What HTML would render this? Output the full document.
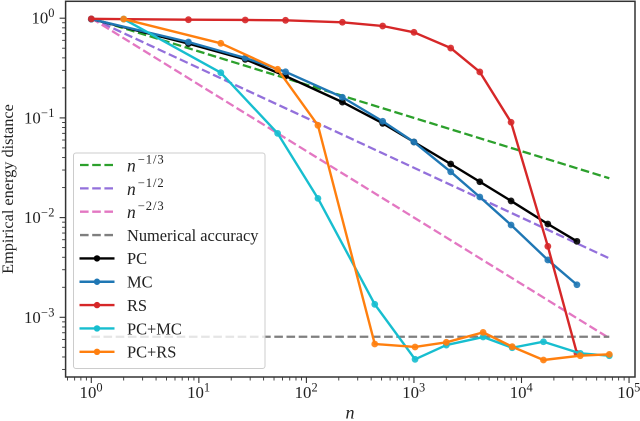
<!DOCTYPE html>
<html lang="en">
<head>
<meta charset="utf-8">
<title>Empirical energy distance</title>
<style>
html,body{margin:0;padding:0;background:#fff;}
svg{display:block;font-family:"Liberation Serif",serif;fill:#222;}
</style>
</head>
<body>
<svg id="chart" xmlns="http://www.w3.org/2000/svg" width="640" height="421" viewBox="0 0 640 421"></svg>
<script>
const cubeN = [1, 8, 27, 64, 216, 512, 1000, 2197, 4096, 8000, 17576, 32768];
const doubleCubeN = [2, 16, 54, 128, 432, 1024, 2000, 4394, 8192, 16000, 35152, 65536];
const refN = [1, 65536];

const refThird = [1, 0.0248];
const refHalf = [1, 0.0039];
const refTwoThird = [1, 0.000617];
const accuracy = [0.000638, 0.000638];

const pcValues = [0.98, 0.557, 0.387, 0.263, 0.144, 0.0883, 0.0573, 0.0345, 0.0229, 0.0147, 0.00863, 0.00578];
const mcValues = [0.98, 0.577, 0.399, 0.29, 0.161, 0.0925, 0.0573, 0.0288, 0.0161, 0.00843, 0.00376, 0.00212];
const rsValues = [0.985, 0.966, 0.96, 0.952, 0.91, 0.835, 0.722, 0.502, 0.289, 0.0904, 0.00515, 0.000435];
const pcMcValues = [0.98, 0.284, 0.07, 0.0156, 0.00135, 0.000379, 0.000527, 0.000634, 0.000495, 0.000569, 0.000435, 0.000412];
const pcRsValues = [0.98, 0.56, 0.307, 0.0843, 0.00054, 0.000504, 0.000561, 0.000706, 0.000507, 0.000373, 0.000412, 0.000425];

const xTickExponents = [0, 1, 2, 3, 4, 5];
const yTickExponents = [0, -1, -2, -3];
const legendLabels = ["-1/3", "-1/2", "-2/3", "Numerical accuracy", "PC", "MC", "RS", "PC+MC", "PC+RS"];

const NS = "http://www.w3.org/2000/svg";
const svg = document.getElementById("chart");
const plot = {left: 65.6, right: 635, top: 1.3, bottom: 377};
const xScale = n => 91.3 + 107.55 * Math.log10(n);
const yScale = v => 18.2 - 99.7 * Math.log10(v);

function make(tag, attrs, parent) {
  const el = document.createElementNS(NS, tag);
  for (const k in attrs) el.setAttribute(k, attrs[k]);
  (parent || svg).appendChild(el);
  return el;
}
function group(name) {
  const g = make("g", {});
  
  
  return g;
}
function toPoints(xs, ys) {
  return xs.map((x, i) => xScale(x).toFixed(2) + "," + yScale(ys[i]).toFixed(2)).join(" ");
}
function drawRef(name, xs, ys, color) {
  const line = make("polyline", {points: toPoints(xs, ys), fill: "none", stroke: color, "stroke-width": 2.3, "stroke-dasharray": "8.6 3.6"});
  
  
}
function drawSeries(name, xs, ys, color) {
  const g = group(name);
  make("polyline", {points: toPoints(xs, ys), fill: "none", stroke: color, "stroke-width": 2.4, "stroke-linejoin": "round"}, g);
  xs.forEach((x, i) => {
    const dot = make("circle", {cx: xScale(x).toFixed(2), cy: yScale(ys[i]).toFixed(2), r: 3.4, fill: color, "fill-opacity": 0.9}, g);
    
    
  });
}
function powerLabel(parent, x, y, exp, anchor) {
  const t = make("text", {x: x, y: y, "font-size": 16.8, "text-anchor": anchor}, parent);
  
  
  t.appendChild(document.createTextNode("10"));
  const s = make("tspan", {dy: -6.5, "font-size": 12.4, "letter-spacing": 0.5}, t);
  s.textContent = String(exp).replace("-", "\u2212");
}

drawRef("reference-line-n-third", refN, refThird, "#2ca02c");
drawRef("reference-line-n-half", refN, refHalf, "#9370db");
drawRef("reference-line-n-two-thirds", refN, refTwoThird, "#e377c2");
drawRef("numerical-accuracy-line", refN, accuracy, "#7f7f7f");
drawSeries("series-pc", cubeN, pcValues, "#000000");
drawSeries("series-mc", cubeN, mcValues, "#1f77b4");
drawSeries("series-rs", cubeN, rsValues, "#d62728");
drawSeries("series-pc-mc", doubleCubeN, pcMcValues, "#17becf");
drawSeries("series-pc-rs", doubleCubeN, pcRsValues, "#ff7f0e");

const xAxis = group("x-axis");
for (let e = -1; e <= 5; e++) {
  for (let m = 1; m <= 9; m++) {
    const n = m * Math.pow(10, e);
    const px = xScale(n);
    if (px < plot.left || px > plot.right) continue;
    const major = m === 1;
    make("line", {x1: px, x2: px, y1: plot.bottom, y2: plot.bottom + (major ? 6 : 3.5), stroke: "#333", "stroke-width": major ? 1.1 : 0.9}, xAxis);
  }
}
xTickExponents.forEach(e => {
  const px = xScale(Math.pow(10, e));
  powerLabel(xAxis, px, 398, e, "middle");
});

const yAxis = group("y-axis");
for (let e = -4; e <= 0; e++) {
  for (let m = 1; m <= 9; m++) {
    const v = m * Math.pow(10, e);
    const py = yScale(v);
    if (py < plot.top || py > plot.bottom) continue;
    const major = m === 1;
    make("line", {x1: plot.left, x2: plot.left - (major ? 6 : 3.5), y1: py, y2: py, stroke: "#333", "stroke-width": major ? 1.1 : 0.9}, yAxis);
  }
}
yTickExponents.forEach(e => {
  const py = yScale(Math.pow(10, e));
  powerLabel(yAxis, 55, py + 5.5, e, "end");
});

const frame = make("rect", {x: plot.left, y: plot.top, width: plot.right - plot.left, height: plot.bottom - plot.top, fill: "none", stroke: "#333", "stroke-width": 1.5});



const yTitle = make("text", {transform: "translate(13,189) rotate(-90)", "text-anchor": "middle", "font-size": 16.3});


yTitle.textContent = "Empirical energy distance";

const xTitle = make("text", {x: 350, y: 418.5, "text-anchor": "middle", "font-size": 18, "font-style": "italic"});


xTitle.textContent = "n";

const legend = group("legend");
make("rect", {x: 73.5, y: 153, width: 191.5, height: 215.5, rx: 2.5, fill: "#fff", "fill-opacity": 0.8, stroke: "#ccc", "stroke-width": 1}, legend);
const legendColors = ["#2ca02c", "#9370db", "#e377c2", "#7f7f7f", "#000000", "#1f77b4", "#d62728", "#17becf", "#ff7f0e"];
legendLabels.forEach((label, i) => {
  const cy = 165 + i * 23.35;
  const row = make("g", {}, legend);
  
  
  if (i < 4) {
    make("line", {x1: 80, x2: 113.5, y1: cy, y2: cy, stroke: legendColors[i], "stroke-width": 2.3, "stroke-dasharray": "8.6 3.6"}, row);
  } else {
    make("line", {x1: 79.5, x2: 114.5, y1: cy, y2: cy, stroke: legendColors[i], "stroke-width": 2.4}, row);
    make("circle", {cx: 97, cy: cy, r: 3.2, fill: legendColors[i]}, row);
  }
  if (i < 3) {
    const t = make("text", {x: 127, y: cy + 6.4, "font-size": 17.5}, row);
    const base = make("tspan", {"font-style": "italic"}, t);
    base.textContent = "n";
    const s = make("tspan", {dx: 2, dy: -8, "font-size": 12.6, "letter-spacing": 0.9}, t);
    s.textContent = label.replace("-", "\u2212");
  } else {
    const t = make("text", {x: 127, y: cy + 5.8, "font-size": 16.4}, row);
    t.textContent = label;
  }
});
</script>
</body>
</html>
